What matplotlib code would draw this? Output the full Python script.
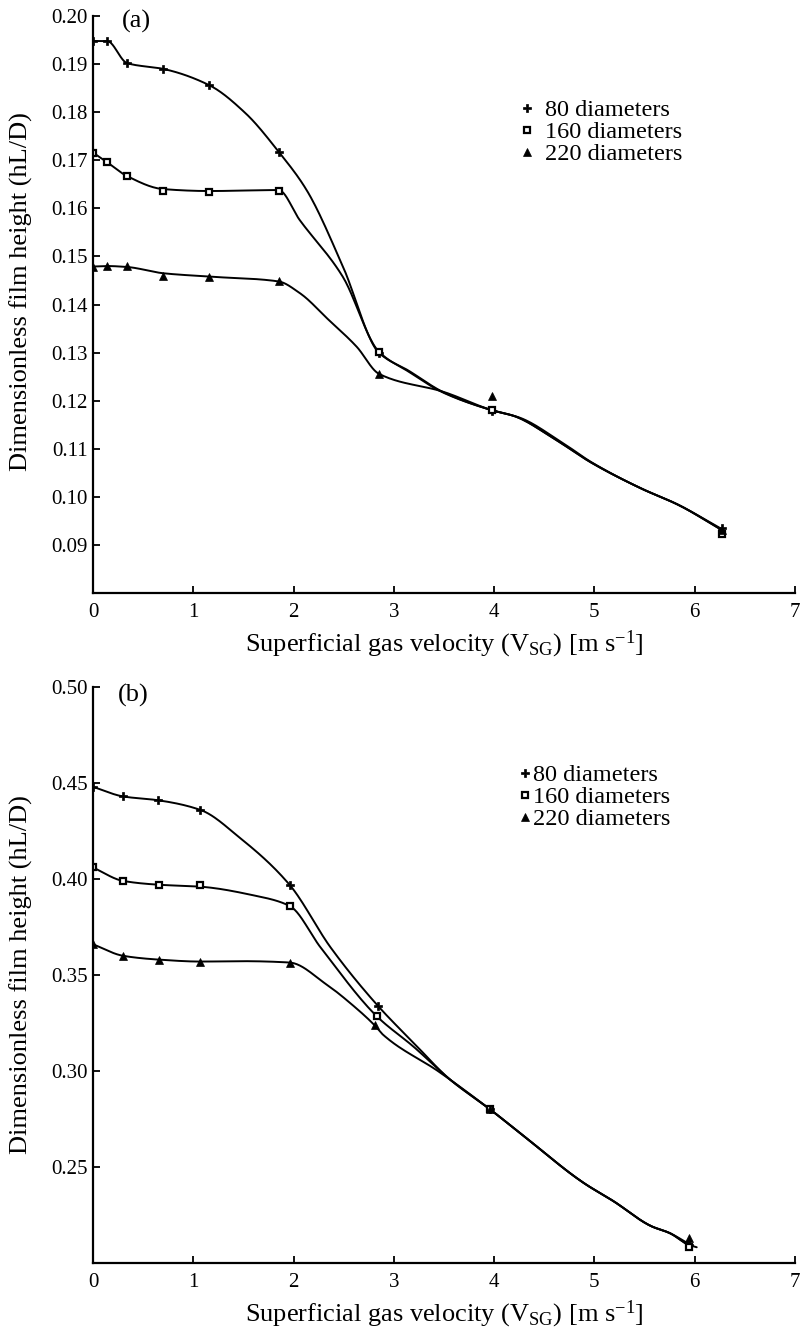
import numpy as np
import matplotlib
matplotlib.use("Agg")
import matplotlib.pyplot as plt

plt.rcParams['font.family'] = ['Liberation Serif', 'DejaVu Serif']
plt.rcParams['mathtext.fontset'] = 'custom'
plt.rcParams['mathtext.rm'] = 'Liberation Serif'
plt.rcParams['mathtext.it'] = 'Liberation Serif:italic'

labels = ['80 diameters', '160 diameters', '220 diameters']

# ---- panel (a): measured points
a_x80 = [0.00, 0.14, 0.34, 0.70, 1.16, 1.85, 2.85, 3.98, 6.27]
a_y80 = [0.1948, 0.1948, 0.1902, 0.1890, 0.1856, 0.1718, 0.1300, 0.1178, 0.0935]
a_x160 = [0.00, 0.14, 0.34, 0.70, 1.16, 1.85, 2.85, 3.98, 6.27]
a_y160 = [0.1716, 0.1696, 0.1667, 0.1636, 0.1634, 0.1636, 0.1302, 0.1180, 0.0922]
a_x220 = [0.00, 0.14, 0.34, 0.70, 1.16, 1.85, 2.85, 3.98, 6.27]
a_y220 = [0.1479, 0.1480, 0.1480, 0.1460, 0.1457, 0.1448, 0.1256, 0.1210, 0.0932]

# ---- panel (a): fitted curves
a_c80_x = [0.00, 0.14, 0.34, 0.70, 1.16, 1.52, 1.85, 2.13, 2.49, 2.85,
           3.15, 3.50, 3.98, 4.20, 4.62, 4.97, 5.46, 5.84, 6.27]
a_c80_y = [0.1948, 0.1948, 0.1902, 0.1890, 0.1856, 0.1798, 0.1718, 0.1638, 0.1480, 0.1300,
           0.1262, 0.1217, 0.1180, 0.1168, 0.1118, 0.1071, 0.1018, 0.0983, 0.0931]
a_c160_x = [0.00, 0.14, 0.34, 0.70, 1.16, 1.85, 2.06, 2.49, 2.85,
            3.15, 3.50, 3.98, 4.20, 4.62, 4.97, 5.46, 5.84, 6.27]
a_c160_y = [0.1716, 0.1696, 0.1667, 0.1640, 0.1636, 0.1638, 0.1576, 0.1458, 0.1302,
            0.1260, 0.1216, 0.1180, 0.1168, 0.1118, 0.1071, 0.1018, 0.0983, 0.0931]
a_c220_x = [0.00, 0.14, 0.34, 0.70, 1.16, 1.85, 2.06, 2.35, 2.63, 2.85,
            3.50, 3.98, 4.25, 4.67, 4.97, 5.46, 5.84, 6.27]
a_c220_y = [0.1479, 0.1480, 0.1478, 0.1465, 0.1458, 0.1448, 0.1424, 0.1368, 0.1312, 0.1256,
            0.1218, 0.1180, 0.1165, 0.1114, 0.1072, 0.1018, 0.0983, 0.0933]

# ---- panel (b): measured points
b_x80 = [0.00, 0.30, 0.65, 1.07, 1.96, 2.84, 3.96, 5.94]
b_y80 = [0.448, 0.443, 0.441, 0.436, 0.397, 0.334, 0.280, 0.2095]
b_x160 = [0.00, 0.30, 0.66, 1.07, 1.96, 2.83, 3.96, 5.94]
b_y160 = [0.406, 0.399, 0.397, 0.397, 0.386, 0.3285, 0.280, 0.2085]
b_x220 = [0.00, 0.30, 0.66, 1.07, 1.96, 2.81, 3.96, 5.94]
b_y220 = [0.366, 0.360, 0.358, 0.357, 0.3565, 0.3237, 0.280, 0.213]

# ---- panel (b): fitted curves
b_c80_x = [0.00, 0.30, 0.65, 1.07, 1.47, 1.96, 2.37, 2.84, 3.20, 3.55,
           3.96, 4.27, 4.89, 5.19, 5.57, 5.75, 5.94, 6.02]
b_c80_y = [0.448, 0.443, 0.441, 0.436, 0.4212, 0.397, 0.3643, 0.334, 0.3145, 0.296,
           0.280, 0.2672, 0.2418, 0.2322, 0.2191, 0.2156, 0.2095, 0.2082]
b_c160_x = [0.00, 0.30, 0.66, 1.07, 1.60, 1.96, 2.27, 2.83, 3.20, 3.55,
            3.96, 4.27, 4.89, 5.19, 5.57, 5.75, 5.94]
b_c160_y = [0.406, 0.399, 0.397, 0.396, 0.3915, 0.386, 0.3643, 0.3285, 0.3125, 0.296,
            0.280, 0.2672, 0.2418, 0.2322, 0.2191, 0.2156, 0.2090]
b_c220_x = [0.00, 0.30, 0.66, 1.07, 1.50, 1.96, 2.33, 2.58, 2.81, 2.89, 3.45,
            3.96, 4.27, 4.89, 5.19, 5.57, 5.75, 5.94]
b_c220_y = [0.366, 0.360, 0.358, 0.357, 0.3572, 0.3565, 0.345, 0.3347, 0.3237, 0.319, 0.2996,
            0.280, 0.2672, 0.2418, 0.2322, 0.2191, 0.2156, 0.2100]


def smooth_curve(x, y, n=25):
    # monotone cubic (Fritsch-Carlson) through the curve points
    x = np.asarray(x, float)
    y = np.asarray(y, float)
    h = np.diff(x)
    d = np.diff(y) / h
    m = np.zeros_like(y)
    m[0], m[-1] = d[0], d[-1]
    for k in range(1, len(x) - 1):
        if d[k - 1] * d[k] > 0:
            w1 = 2 * h[k] + h[k - 1]
            w2 = h[k] + 2 * h[k - 1]
            m[k] = (w1 + w2) / (w1 / d[k - 1] + w2 / d[k])
    xs, ys = [], []
    for k in range(len(x) - 1):
        t = np.linspace(0, 1, n, endpoint=False)
        h00 = 2 * t**3 - 3 * t**2 + 1
        h10 = t**3 - 2 * t**2 + t
        h01 = -2 * t**3 + 3 * t**2
        h11 = t**3 - t**2
        xs.append(x[k] + t * h[k])
        ys.append(h00 * y[k] + h10 * h[k] * m[k] + h01 * y[k + 1] + h11 * h[k] * m[k + 1])
    xs.append([x[-1]])
    ys.append([y[-1]])
    return np.concatenate(xs), np.concatenate(ys)


marker_styles = [
    dict(marker='P', ms=5.5, mfc='black', mec='black', mew=0.5),
    dict(marker='s', ms=5, mfc='white', mec='black', mew=1.6),
    dict(marker='^', ms=5.5, mfc='black', mec='black', mew=0.5),
]


def draw_panel(ax, points, curves, ylim, yticks, tag, tag_xy, ylabel_y, legend_xy, hlen, hpad):
    for (cx, cy) in curves:
        sx, sy = smooth_curve(cx, cy)
        ax.plot(sx, sy, color='black', lw=1.4, solid_capstyle='round')
    for (px, py), lab, st in zip(points, labels, marker_styles):
        ax.plot(px, py, linestyle='none', label=lab, **st)

    ax.set_xlim(0, 7)
    ax.set_ylim(*ylim)
    ax.set_xticks(range(8))
    ax.set_yticks(yticks)
    ax.set_yticklabels([f'{v:.2f}' for v in yticks])
    for s in ['top', 'right']:
        ax.spines[s].set_visible(False)
    for s in ['left', 'bottom']:
        ax.spines[s].set_linewidth(1.6)
    ax.tick_params(axis='both', direction='in', length=5, width=1.3, labelsize=15)
    ax.tick_params(axis='y', pad=4)
    ax.tick_params(axis='x', pad=7)

    ax.set_xlabel(r'Superficial gas velocity (V$_{\mathrm{SG}}$) [m s$^{\mathrm{-1}}$]', fontsize=19)
    ax.xaxis.set_label_coords(0.5, -0.062)
    ax.set_ylabel('Dimensionless film height (hL/D)', fontsize=19)
    ax.yaxis.set_label_coords(-0.085, ylabel_y)

    ax.text(tag_xy[0], tag_xy[1], tag, transform=ax.transAxes, fontsize=19,
            ha='left', va='center')

    ax.legend(loc='upper left', bbox_to_anchor=legend_xy, frameon=False, fontsize=17.5,
              numpoints=1, borderpad=0, borderaxespad=0, handlelength=hlen,
              handletextpad=hpad, labelspacing=0.0)


fig = plt.figure(figsize=(8, 13.35), dpi=100)
ax_a = fig.add_axes([0.11625, 1 - 593 / 1335, 0.8775, 577 / 1335])
ax_b = fig.add_axes([0.11625, 1 - 1263 / 1335, 0.8775, 576 / 1335])

draw_panel(ax_a,
           [(a_x80, a_y80), (a_x160, a_y160), (a_x220, a_y220)],
           [(a_c80_x, a_c80_y), (a_c160_x, a_c160_y), (a_c220_x, a_c220_y)],
           (0.08, 0.20), [0.09, 0.10, 0.11, 0.12, 0.13, 0.14, 0.15, 0.16, 0.17, 0.18, 0.19, 0.20],
           '(a)', (0.041, 0.990), 0.523, (0.604, 0.856), 0.8, 0.35)

draw_panel(ax_b,
           [(b_x80, b_y80), (b_x160, b_y160), (b_x220, b_y220)],
           [(b_c80_x, b_c80_y), (b_c160_x, b_c160_y), (b_c220_x, b_c220_y)],
           (0.20, 0.50), [0.25, 0.30, 0.35, 0.40, 0.45, 0.50],
           '(b)', (0.036, 0.986), 0.5, (0.607, 0.866), 0.5, 0.08)

fig.savefig('out.png', dpi=100)
